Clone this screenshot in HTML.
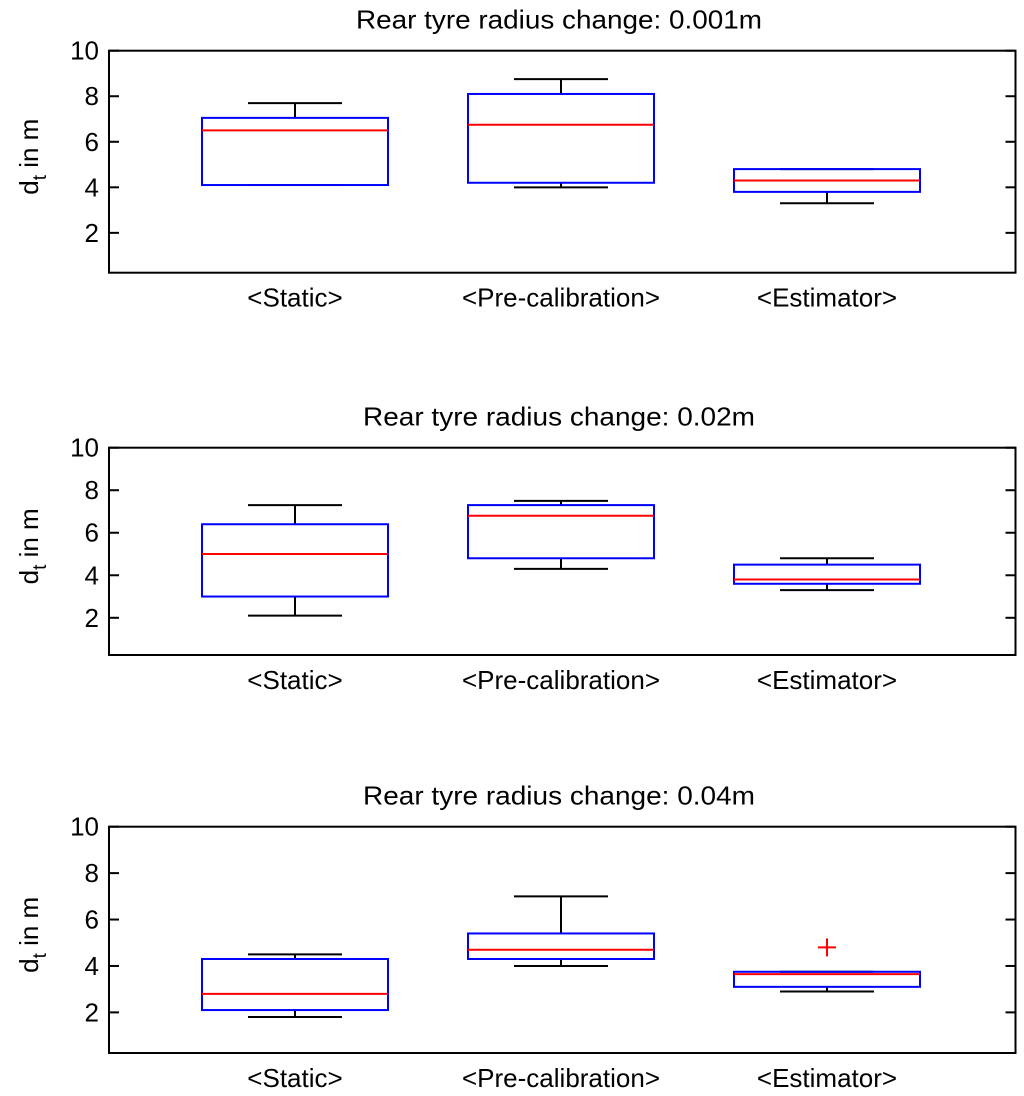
<!DOCTYPE html>
<html><head><meta charset="utf-8"><style>
body{margin:0;background:#fff;}
svg{display:block;font-family:"Liberation Sans",Arial,sans-serif;}
</style></head><body>
<svg id="chart" width="1024" height="1096"></svg>
<script>
const categories = ["<Static>", "<Pre-calibration>", "<Estimator>"];
const titles = ["Rear tyre radius change: 0.001m", "Rear tyre radius change: 0.02m", "Rear tyre radius change: 0.04m"];
const yTicks = [2, 4, 6, 8, 10];
// [lowerWhisker, q1, median, q3, upperWhisker] per category
const stats001 = [[4.1, 4.1, 6.5, 7.05, 7.7], [4.0, 4.2, 6.75, 8.1, 8.75], [3.3, 3.8, 4.3, 4.8, 4.8]];
const stats002 = [[2.1, 3.0, 5.0, 6.4, 7.3], [4.3, 4.8, 6.8, 7.3, 7.5], [3.3, 3.6, 3.8, 4.5, 4.8]];
const stats004 = [[1.8, 2.1, 2.8, 4.3, 4.5], [4.0, 4.3, 4.7, 5.4, 7.0], [2.9, 3.1, 3.65, 3.75, 3.75]];
const outliers004 = [[3, 4.8]];
const allStats = [stats001, stats002, stats004];
const allOutliers = [[], [], outliers004];

const NS = "http://www.w3.org/2000/svg";
const svg = document.getElementById("chart");
function mk(tag, attrs, parent){const e=document.createElementNS(NS,tag);for(const k in attrs)e.setAttribute(k,attrs[k]);(parent||svg).appendChild(e);return e;}

const panels = [{top:50.7,bottom:272.7},{top:447.7,bottom:655},{top:826.7,bottom:1053}];
const L=109, R=1015.5, yMin=0.25, yMax=10, FS=26;
function xScale(i){return 295 + 266*i;}

panels.forEach((p,pi)=>{
  const g = mk("g",{});
  
  
  const y = v => p.bottom - (v - yMin)/(yMax - yMin)*(p.bottom - p.top);
  const t = mk("text",{x:559,y:p.top-22,"text-anchor":"middle","font-size":FS,fill:"#000",textLength:406,lengthAdjust:"spacingAndGlyphs"},g);
  if(pi>0) t.setAttribute("textLength", 392);
  t.textContent = titles[pi];
  
  
  const frame = mk("rect",{x:L,y:p.top,width:R-L,height:p.bottom-p.top,fill:"none",stroke:"#000","stroke-width":2},g);
  
  
  yTicks.forEach(v=>{
    const yy=y(v);
    mk("line",{x1:L,x2:L+10,y1:yy,y2:yy,stroke:"#000","stroke-width":2},g);
    mk("line",{x1:R-10,x2:R,y1:yy,y2:yy,stroke:"#000","stroke-width":2},g);
    const tl=mk("text",{x:L-10,y:yy+9,"text-anchor":"end","font-size":FS,fill:"#000"},g);
    tl.textContent=v;
    
    
  });
  const yl = mk("text",{transform:`translate(38,${(p.top+p.bottom)/2-5}) rotate(-90)`,"text-anchor":"middle","font-size":FS,fill:"#000"},g);
  yl.innerHTML = 'd<tspan font-size="19" dy="8">t</tspan><tspan dy="-8"> in m</tspan>';
  
  
  categories.forEach((c,i)=>{
    const s=allStats[pi][i], cx=xScale(i), hw=93, cw=47;
    const bg=mk("g",{},g);
    
    
    mk("line",{x1:cx,x2:cx,y1:y(s[3]),y2:y(s[4]),stroke:"#000","stroke-width":2},bg);
    mk("line",{x1:cx,x2:cx,y1:y(s[0]),y2:y(s[1]),stroke:"#000","stroke-width":2},bg);
    mk("line",{x1:cx-cw,x2:cx+cw,y1:y(s[4]),y2:y(s[4]),stroke:"#000","stroke-width":2},bg);
    mk("line",{x1:cx-cw,x2:cx+cw,y1:y(s[0]),y2:y(s[0]),stroke:"#000","stroke-width":2},bg);
    mk("rect",{x:cx-hw,y:y(s[3]),width:2*hw,height:y(s[1])-y(s[3]),fill:"none",stroke:"#0000ff","stroke-width":2},bg);
    mk("line",{x1:cx-hw,x2:cx+hw,y1:y(s[2]),y2:y(s[2]),stroke:"#ff0000","stroke-width":2},bg);
    const cl=mk("text",{x:cx,y:p.bottom+34,"text-anchor":"middle","font-size":FS,fill:"#000"},g);
    cl.textContent=c;
    
    
  });
  allOutliers[pi].forEach(o=>{
    const cx=xScale(o[0]-1), cy=y(o[1]);
    const og=mk("g",{},g);
    
    
    mk("line",{x1:cx-9,x2:cx+9,y1:cy,y2:cy,stroke:"#ff0000","stroke-width":2},og);
    mk("line",{x1:cx,x2:cx,y1:cy-9,y2:cy+9,stroke:"#ff0000","stroke-width":2},og);
  });
});
</script>
</body></html>
